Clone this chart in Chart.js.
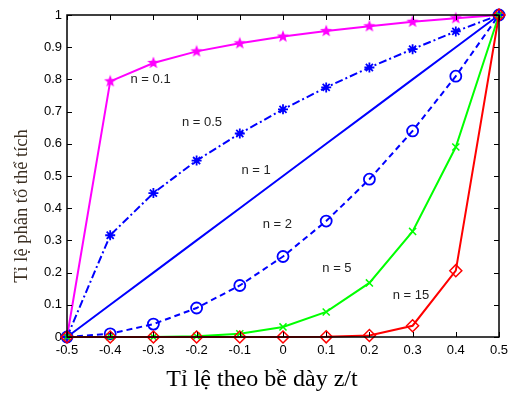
<!DOCTYPE html>
<html>
<head>
<meta charset="utf-8">
<script src="https://cdn.jsdelivr.net/npm/chart.js@4.4.1/dist/chart.umd.min.js"></script>
<style>
  body { margin: 0; background: #fff; }
</style>
</head>
<body>
<canvas id="myChart" width="508" height="393"></canvas>
<script>
// Dữ liệu
const tiLe = [-0.5, -0.4, -0.3, -0.2, -0.1, 0, 0.1, 0.2, 0.3, 0.4, 0.5];
const n01 = [0, 0.794, 0.851, 0.887, 0.912, 0.933, 0.950, 0.965, 0.979, 0.990, 1];
const n05 = [0, 0.316, 0.447, 0.548, 0.632, 0.707, 0.775, 0.837, 0.894, 0.949, 1];
const n1 = [0, 0.1, 0.2, 0.3, 0.4, 0.5, 0.6, 0.7, 0.8, 0.9, 1];
const n2 = [0, 0.01, 0.04, 0.09, 0.16, 0.25, 0.36, 0.49, 0.64, 0.81, 1];
const n5 = [0, 0.0000, 0.0003, 0.0024, 0.0102, 0.0313, 0.0778, 0.168, 0.328, 0.590, 1];
const n15 = [0, 0, 0, 0, 0, 0, 0.0005, 0.0047, 0.035, 0.206, 1];
const nhan = ['n = 0.1', 'n = 0.5', 'n = 1', 'n = 2', 'n = 5', 'n = 15'];

// ngôi sao đặc (pentagram) cho n = 0.1
function ngoiSao(mau) {
    const c = document.createElement('canvas');
    c.width = 14; c.height = 14;
    const g = c.getContext('2d');
    g.fillStyle = mau;
    g.beginPath();
    for (let i = 0; i < 10; i++) {
        const r = i % 2 === 0 ? 6.5 : 2.7;
        const a = -Math.PI / 2 + i * Math.PI / 5;
        g.lineTo(7 + r * Math.cos(a), 7 + r * Math.sin(a));
    }
    g.closePath();
    g.fill();
    return c;
}

const diem = (ys) => ys.map((y, i) => ({ x: tiLe[i], y: y }));

const chuThich = [
    { text: nhan[0], x: -0.353, y: 0.80 },
    { text: nhan[1], x: -0.234, y: 0.665 },
    { text: nhan[2], x: -0.096, y: 0.518 },
    { text: nhan[3], x: -0.047, y: 0.35 },
    { text: nhan[4], x: 0.091, y: 0.212 },
    { text: nhan[5], x: 0.254, y: 0.13 }
];

const khung = {
    id: 'khung',
    afterDraw(chart) {
        const { ctx, chartArea: a, scales } = chart;
        ctx.save();
        ctx.strokeStyle = '#000';
        ctx.lineWidth = 1.5;
        ctx.strokeRect(a.left, a.top, a.right - a.left, a.bottom - a.top);
        ctx.lineWidth = 1;
        ctx.beginPath();
        scales.x.ticks.forEach(t => {
            const px = Math.round(scales.x.getPixelForValue(t.value)) + 0.5;
            ctx.moveTo(px, a.bottom); ctx.lineTo(px, a.bottom - 5);
            ctx.moveTo(px, a.top); ctx.lineTo(px, a.top + 5);
        });
        scales.y.ticks.forEach(t => {
            const py = Math.round(scales.y.getPixelForValue(t.value)) + 0.5;
            ctx.moveTo(a.left, py); ctx.lineTo(a.left + 5, py);
            ctx.moveTo(a.right, py); ctx.lineTo(a.right - 5, py);
        });
        ctx.stroke();

        // nhãn n = ...
        ctx.fillStyle = '#222';
        ctx.font = '13px "Liberation Sans", Arial, sans-serif';
        ctx.textBaseline = 'middle';
        ctx.textAlign = 'left';
        chuThich.forEach(l => {
            ctx.fillText(l.text, scales.x.getPixelForValue(l.x), scales.y.getPixelForValue(l.y));
        });

        // tiêu đề trục
        ctx.fillStyle = '#000';
        ctx.font = '24px "Liberation Serif", "Times New Roman", serif';
        ctx.textAlign = 'center';
        ctx.fillText('Tỉ lệ theo bề dày z/t', 262, 380);
        ctx.translate(22, 206);
        ctx.rotate(-Math.PI / 2);
        ctx.fillStyle = '#3b2f22';
        ctx.font = '18.5px "Liberation Serif", "Times New Roman", serif';
        ctx.fillText('Tỉ lệ phân tố thể tích', 0, 0);
        ctx.restore();
    }
};

const ctx = document.getElementById('myChart').getContext('2d');
const myChart = new Chart(ctx, {
    type: 'line',
    data: {
        datasets: [
            {
                label: nhan[5], data: diem(n15), borderColor: '#ff0000', borderWidth: 2,
                pointStyle: 'rectRot', pointRadius: 6, pointBorderWidth: 1.5,
                pointBackgroundColor: 'rgba(0,0,0,0)', pointBorderColor: '#ff0000'
            },
            {
                label: nhan[4], data: diem(n5), borderColor: '#00ff00', borderWidth: 2,
                pointStyle: 'crossRot', pointRadius: 5, pointBorderWidth: 1.5, pointBorderColor: '#00ff00'
            },
            {
                label: nhan[3], data: diem(n2), borderColor: '#0000ff', borderWidth: 2, borderDash: [6, 4],
                pointStyle: 'circle', pointRadius: 5.5, pointBorderWidth: 1.8,
                pointBackgroundColor: 'rgba(0,0,0,0)', pointBorderColor: '#0000ff'
            },
            {
                label: nhan[2], data: diem(n1), borderColor: '#0000ff', borderWidth: 2, pointRadius: 0
            },
            {
                label: nhan[1], data: diem(n05), borderColor: '#0000ff', borderWidth: 2, borderDash: [8, 3, 2, 3],
                pointStyle: 'star', pointRadius: 5, pointBorderWidth: 1.8, pointBorderColor: '#0000ff'
            },
            {
                label: nhan[0], data: diem(n01), borderColor: '#ff00ff', borderWidth: 2,
                pointStyle: ngoiSao('#ff00ff'), pointRadius: 7
            }
        ]
    },
    options: {
        responsive: false,
        animation: false,
        devicePixelRatio: 1,
        clip: false,
        datasets: { line: { tension: 0, fill: false, clip: false } },
        plugins: { legend: { display: false }, tooltip: { enabled: false } },
        layout: { padding: { top: 15, right: 5, bottom: 0, left: 0 } },
        scales: {
            x: {
                type: 'linear',
                min: -0.5, max: 0.5,
                grid: { display: false, drawTicks: false },
                border: { display: false },
                afterFit(s) { s.height = 56; s.paddingLeft = 0; s.paddingRight = 0; },
                ticks: {
                    stepSize: 0.1,
                    padding: 6,
                    color: '#000',
                    maxRotation: 0,
                    autoSkip: false,
                    font: { family: '"Liberation Sans", Arial, sans-serif', size: 13 },
                    callback: (v) => parseFloat(v.toFixed(1)).toString()
                }
            },
            y: {
                min: 0, max: 1,
                grid: { display: false, drawTicks: false },
                border: { display: false },
                afterFit(s) { s.width = 67; s.paddingTop = 0; s.paddingBottom = 0; },
                ticks: {
                    stepSize: 0.1,
                    padding: 5,
                    color: '#000',
                    font: { family: '"Liberation Sans", Arial, sans-serif', size: 13 },
                    callback: (v) => parseFloat(v.toFixed(1)).toString()
                }
            }
        }
    },
    plugins: [khung]
});
</script>
</body>
</html>
